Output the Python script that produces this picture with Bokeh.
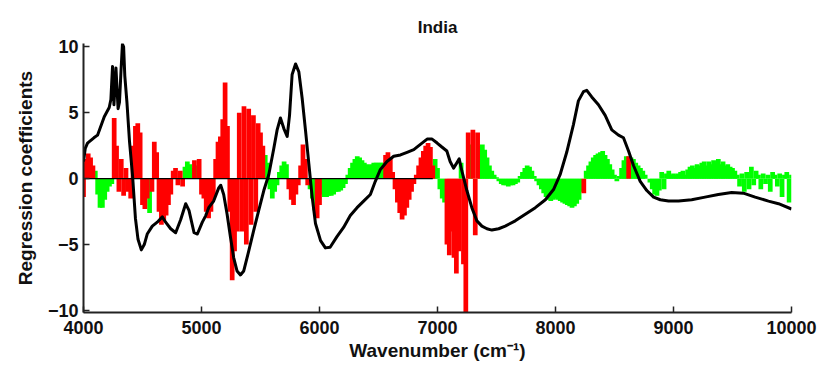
from bokeh.plotting import figure
from bokeh.models import Range1d, FixedTicker
from bokeh.embed import file_html
from bokeh.resources import INLINE

# ---------------- data ----------------
title = "India"
x_label = "Wavenumber (cm\u207b\u00b9)"
y_label = "Regression coefficients"
x_ticks = [4000, 5000, 6000, 7000, 8000, 9000, 10000]
y_ticks = [-10, -5, 0, 5, 10]
y_tick_labels = ["\u221210", "\u22125", "0", "5", "10"]

# regression coefficients on a 20 cm-1 grid starting at 4000
bar_start = 4000
bar_step = 20
coef = [
    -1.4, 1.5, 1.9, 1.6, 1.0, 0.6, -1.2, -2.2, -2.2, -1.6,      # 4000
    -1.0, -0.6, -0.4, 4.6, 2.5, -1.0, 1.5, -1.3, 0.8, -1.0,     # 4200
    -1.5, 2.5, 4.0, 4.2, 3.5, -2.0, -2.3, -1.5, -2.6, -1.0,     # 4400
    2.8, 2.0, -2.5, -3.5, -3.2, -2.8, -2.0, -1.2, 0.6, 0.8,     # 4600
    -0.5, 0.6, -0.6, 0.9, 1.3, 1.1, 0.8, 1.4, 1.0, 1.5,         # 4800
    -1.2, -1.5, -2.5, -3.0, -2.5, -1.5, 1.5, 2.8, 3.2, 4.5,     # 5000
    7.3, 4.0, -2.5, -7.7, -5.5, -4.0, 5.0, -4.0, 5.5, -5.0,     # 5200
    5.3, -3.5, 4.8, -2.5, 4.2, 3.5, 2.5, 1.8, 1.2, -0.8,        # 5400
    -1.5, -1.0, -0.5, 0.5, 1.0, 1.3, 1.1, -0.8, -1.6, -2.0,     # 5600
    -1.2, -0.5, 1.0, 2.6, 1.5, -0.5, -0.8, -1.5, -2.4, -3.0,    # 5800
    -2.0, -1.2, -1.4, -1.4, -1.3, -1.3, -1.2, -1.0, -1.0, -0.9, # 6000
    -0.7, -0.4, 0.3, 0.8, 1.2, 1.5, 1.7, 1.6, 1.4, 1.2,         # 6200
    1.1, 1.0, 1.1, 1.2, 1.2, 1.2, 1.2, 1.2, 1.8, 2.0,           # 6400
    1.6, 0.5, -0.8, -1.8, -2.6, -3.1, -2.8, -2.2, -1.6, -1.0,   # 6600
    -0.4, 0.3, 1.0, 1.6, 2.1, 2.5, 2.7, 2.4, 1.0, 1.5,          # 6800
    0.8, -0.8, -1.5, -1.8, -5.0, -5.8, -4.0, -6.0, -7.2, -5.5,  # 7000
    1.2, -6.5, -10.5, 3.5, 2.6, 3.7, -4.3, 3.5, 2.5, 2.6,       # 7200
    2.2, 1.6, 1.0, 0.6, 0.3, 0.1, -0.2, -0.4, -0.5, -0.5,       # 7400
    -0.6, -0.5, -0.5, -0.4, -0.3, 0.2, 0.5, 0.8, 1.0, 0.9,      # 7600
    0.6, 0.2, -0.2, -0.5, -0.8, -1.1, -1.4, -1.6, -1.7, -1.6,   # 7800
    -1.5, -1.6, -1.7, -1.8, -1.9, -2.0, -2.1, -2.2, -2.1, -1.9, # 8000
    -1.6, -1.0, -1.1, 0.6, 1.0, 1.3, 1.6, 1.8, 1.9, 2.0,        # 8200
    2.1, 1.8, 1.5, 1.1, 0.7, 0.3, -0.2, 0.2, 0.8, 1.4,          # 8400
    1.7, 1.7, 1.6, 1.5, 1.2, 1.0, 0.8, 0.6, 0.3, 0.0,           # 8600
    -0.3, -0.8, -1.2, -1.3, -0.9, 0.5, -0.8, 0.4, 0.6, 0.3,     # 8800
    0.4, 0.3, 0.4, 0.5, 0.6, 0.3, 0.7, 0.9, 1.0, 0.8,           # 9000
    1.1, 1.0, 1.2, 1.3, 1.0, 1.3, 1.1, 1.4, 1.2, 1.5,           # 9200
    1.1, 1.3, 1.0, 1.1, 0.9, 0.8, 0.6, 0.3, -0.6, 0.4,          # 9400
    -1.0, 0.5, -0.8, 0.9, -0.5, 0.6, 0.3, -0.8, 0.4, -0.4,      # 9600
    0.3, -1.0, 0.5, 0.3, -0.6, 0.4, -1.4, 0.3, 0.5, -1.8,       # 9800
    0.3,                                                        # 10000
]
# 'r' = selected variable (red), 'g' = not selected (green)
selected = (
    "rrrrrggggg" "gggrrrrrrr" "rrrrrrrrgr" "rrrrrrrrrr" "rrrggggrgr"
    "rrrrrrrrrr" "rrrrrrrrrr" "rrrrrrrggg" "gggggggrrr" "rrrrrrgggr"
    "rggggggggg" "gggggggggg" "ggggggggrr" "rrrrrrrrrr" "rrrrrrrrrg"
    "ggggrrrrrr" "grrrgrrrgg" "gggggggggg" "gggggggggg" "gggggggggg"
    "gggggggggg" "ggrggggggg" "gggggggggg" "grgggggggg" "gggggggggg"
    "gggggggggg" "gggggggggg" "gggggggggg" "gggggggggg" "gggggggggg"
    "g"
)

# reference spectrum-like curve (black)
curve_x = [4000, 4015, 4034, 4088, 4119, 4176, 4218, 4232, 4246, 4258,
           4275, 4293, 4305, 4318, 4330, 4340, 4350, 4368, 4390, 4416,
           4440, 4462, 4490, 4515, 4540, 4583, 4625, 4668, 4696, 4739,
           4781, 4824, 4866, 4894, 4937, 4965, 5007, 5036, 5061, 5103,
           5146, 5163, 5188, 5217, 5245, 5273, 5301, 5330, 5358, 5400,
           5443, 5485, 5528, 5570, 5613, 5641, 5669, 5698, 5726, 5746,
           5768, 5797, 5825, 5853, 5882, 5910, 5938, 5966, 6009, 6050,
           6090, 6148, 6204, 6261, 6318, 6374, 6431, 6473, 6516, 6572,
           6629, 6686, 6742, 6799, 6855, 6912, 6954, 6997, 7037, 7079,
           7107, 7136, 7164, 7184, 7206, 7249, 7291, 7334, 7376, 7419,
           7461, 7518, 7574, 7659, 7744, 7829, 7914, 7985, 8039, 8095,
           8152, 8194, 8237, 8265, 8307, 8364, 8421, 8477, 8534, 8576,
           8619, 8661, 8718, 8774, 8831, 8888, 8958, 9043, 9154, 9267,
           9380, 9493, 9592, 9692, 9805, 9890, 10000]
curve_y = [1.3, 2.3, 2.7, 3.1, 3.3, 4.7, 5.4, 6.0, 8.5, 5.6,
           8.4, 5.3, 5.8, 8.2, 10.2, 10.0, 7.8, 5.8, 2.8, 0.2,
           -3.0, -4.6, -5.4, -5.0, -4.2, -3.6, -3.3, -2.9, -3.3, -3.8,
           -4.1, -3.1, -1.9, -2.4, -4.1, -4.2, -3.3, -2.8, -2.2, -1.7,
           -0.7, -0.5, -1.2, -2.7, -4.4, -6.0, -7.0, -7.3, -7.0, -5.5,
           -3.9, -2.4, -0.9, 0.3, 2.3, 3.7, 4.6, 3.8, 3.2, 4.8,
           7.9, 8.7, 8.1, 6.1, 3.6, 1.1, -1.4, -3.4, -4.7, -5.25,
           -5.2, -4.4, -3.7, -2.8, -2.2, -1.7, -1.2, -0.2, 0.7, 1.3,
           1.7, 1.8, 2.0, 2.2, 2.6, 3.0, 3.0, 2.7, 2.4, 2.1,
           1.3, 0.8, 1.2, 1.5, 0.6, -0.9, -2.2, -3.2, -3.6, -3.8,
           -3.9, -3.8, -3.6, -3.2, -2.7, -2.2, -1.6, -0.8, 0.3, 2.0,
           4.1, 5.9, 6.6, 6.7, 6.2, 5.6, 4.8, 3.7, 3.3, 3.1,
           2.1, 1.0, -0.2, -0.9, -1.4, -1.6, -1.7, -1.7, -1.6, -1.4,
           -1.2, -1.05, -1.1, -1.4, -1.7, -1.9, -2.3]

baseline_x = [4000, 6960]
baseline_y = [0, 0]

# ---------------- figure ----------------
bar_x = [bar_start + bar_step * i for i in range(len(coef))]
red_x = [x for x, s in zip(bar_x, selected) if s == "r"]
red_y = [v for v, s in zip(coef, selected) if s == "r"]
grn_x = [x for x, s in zip(bar_x, selected) if s == "g"]
grn_y = [v for v, s in zip(coef, selected) if s == "g"]

FONT = "Liberation Sans"
TXT = "#111111"

p = figure(width=819, height=366, output_backend="svg", toolbar_location=None,
           x_range=Range1d(4000, 10000), y_range=Range1d(-10.15, 10.25),
           min_border_left=83, min_border_right=28, min_border_top=43,
           min_border_bottom=54)
p.title.text = title
p.title.align = "center"
p.title.text_font = FONT
p.title.text_font_size = "17px"
p.title.text_font_style = "bold"
p.title.text_color = TXT
p.title.standoff = 14

p.outline_line_color = None
p.grid.grid_line_color = None
p.background_fill_color = "white"

bw = bar_step * 2.0
p.vbar(x=grn_x, top=grn_y, bottom=0, width=bw, fill_color="#00ff00",
       line_color=None)
p.vbar(x=red_x, top=red_y, bottom=0, width=bw, fill_color="#ff0000",
       line_color=None)
p.line(baseline_x, baseline_y, line_color="black", line_width=1.3)
p.line(curve_x, curve_y, line_color="black", line_width=3, line_join="round")

for ax in (p.xaxis[0], p.yaxis[0]):
    ax.axis_line_width = 2
    ax.axis_line_color = "#222222"
    ax.major_tick_line_color = "#222222"
    ax.major_tick_line_width = 1.5
    ax.major_tick_in = 6
    ax.major_tick_out = 0
    ax.minor_tick_line_color = None
    ax.major_label_text_font = FONT
    ax.major_label_text_font_style = "bold"
    ax.major_label_text_font_size = "18px"
    ax.major_label_text_color = TXT
    ax.axis_label_text_font = FONT
    ax.axis_label_text_font_style = "bold"
    ax.axis_label_text_font_size = "19px"
    ax.axis_label_text_color = TXT

p.xaxis.ticker = FixedTicker(ticks=x_ticks)
p.yaxis.ticker = FixedTicker(ticks=y_ticks)
p.yaxis.major_label_overrides = {t: s for t, s in zip(y_ticks, y_tick_labels)}
p.xaxis.axis_label = x_label
p.yaxis.axis_label = y_label
p.xaxis.major_label_standoff = 8
p.yaxis.major_label_standoff = 5
p.xaxis.axis_label_standoff = 3
p.yaxis.axis_label_standoff = 9

open("out.html", "w").write(file_html(p, INLINE))
